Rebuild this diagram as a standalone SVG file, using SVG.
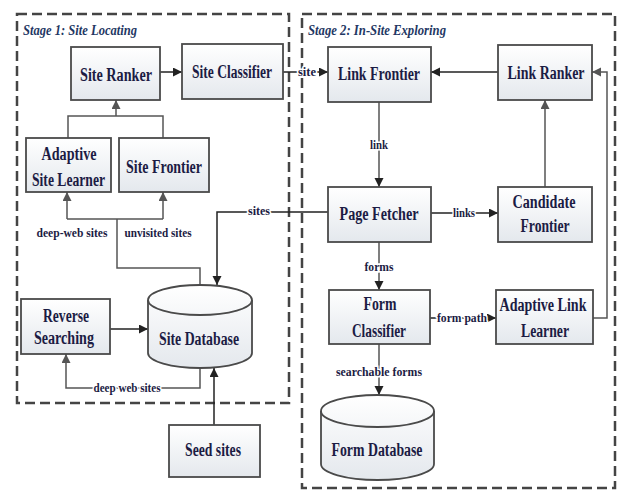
<svg xmlns="http://www.w3.org/2000/svg" width="619" height="490" viewBox="0 0 619 490">
<style>
.stage{fill:none;stroke:#444;stroke-width:2.5;stroke-dasharray:10 5}
.title{font-family:"Liberation Serif",serif;font-style:italic;font-weight:bold;font-size:14px;fill:#1f3864}
.box{fill:url(#g);stroke:#4a4a4a;stroke-width:1.8}
.t{font-family:"Liberation Serif",serif;font-weight:bold;font-size:18px;fill:#1c1c44;text-anchor:middle}
.lbl{font-family:"Liberation Serif",serif;font-weight:bold;font-size:12px;fill:#1c1c44;text-anchor:middle;stroke:#fff;stroke-width:3;paint-order:stroke}
.c{fill:none;stroke:#222;stroke-width:1.5}
.cg{fill:none;stroke:#555;stroke-width:1.5}
</style>
<defs>
<linearGradient id="g" x1="0" y1="0" x2="0" y2="1">
<stop offset="0" stop-color="#ffffff"/>
<stop offset="1" stop-color="#e4e8ed"/>
</linearGradient>
<marker id="a" markerUnits="userSpaceOnUse" markerWidth="10" markerHeight="10" refX="9" refY="4.5" orient="auto">
<path d="M0,0 L9,4.5 L0,9 z" fill="#222"/>
</marker>
<marker id="ag" markerUnits="userSpaceOnUse" markerWidth="10" markerHeight="10" refX="9" refY="4.5" orient="auto">
<path d="M0,0 L9,4.5 L0,9 z" fill="#555"/>
</marker>
</defs>
<rect width="619" height="490" fill="#fff"/>

<g id="stage1">
<rect class="stage" x="17" y="14" width="272" height="389"/>
<text class="title" x="23" y="35" textLength="114" lengthAdjust="spacingAndGlyphs">Stage 1: Site Locating</text>
</g>
<g id="stage2">
<rect class="stage" x="302" y="14" width="313" height="474"/>
<text class="title" x="308" y="35" textLength="138" lengthAdjust="spacingAndGlyphs">Stage 2: In-Site Exploring</text>
</g>

<g id="connectors">
<path class="c" d="M160,72 H182" marker-end="url(#a)"/>
<path class="cg" d="M68,138 V116 H163 V138 M116,116 V100" marker-end="url(#ag)"/>
<path class="cg" d="M200,285 V268 H117 V219 M67,219 H163"/>
<path class="cg" d="M67,219 V192" marker-end="url(#ag)"/>
<path class="cg" d="M163,219 V192" marker-end="url(#ag)"/>
<path class="c" d="M328,212 H217 V285" marker-end="url(#a)"/>
<text class="lbl" x="259" y="215" textLength="22" lengthAdjust="spacingAndGlyphs">sites</text>
<path class="c" d="M110,329 H148" marker-end="url(#a)"/>
<path class="cg" d="M200,368 V388 H66 V354" marker-end="url(#ag)"/>
<text class="lbl" x="127" y="392" textLength="67" lengthAdjust="spacingAndGlyphs">deep web sites</text>
<path class="c" d="M214,425 V368" marker-end="url(#a)"/>
<path class="c" d="M283,72 H328" marker-end="url(#a)"/>
<text class="lbl" x="307" y="76" textLength="18" lengthAdjust="spacingAndGlyphs">site</text>
<path class="c" d="M498,72 H431" marker-end="url(#a)"/>
<path class="cg" d="M379,102 V187" marker-end="url(#a)"/>
<text class="lbl" x="379" y="149" textLength="18" lengthAdjust="spacingAndGlyphs">link</text>
<path class="c" d="M431,213 H498" marker-end="url(#a)"/>
<text class="lbl" x="464" y="217" textLength="22" lengthAdjust="spacingAndGlyphs">links</text>
<path class="cg" d="M545,187 V100" marker-end="url(#ag)"/>
<path class="cg" d="M379,242 V290" marker-end="url(#a)"/>
<text class="lbl" x="379" y="271" textLength="29" lengthAdjust="spacingAndGlyphs">forms</text>
<path class="c" d="M430,318 H496" marker-end="url(#a)"/>
<text class="lbl" x="462" y="322" textLength="50" lengthAdjust="spacingAndGlyphs">form path</text>
<path class="cg" d="M593,318 H607 V72 H592" marker-end="url(#ag)"/>
<path class="cg" d="M379,344 V395" marker-end="url(#a)"/>
<text class="lbl" x="379" y="376" textLength="86" lengthAdjust="spacingAndGlyphs">searchable forms</text>
<text class="lbl" x="72" y="237" textLength="71" lengthAdjust="spacingAndGlyphs">deep-web sites</text>
<text class="lbl" x="158" y="237" textLength="67" lengthAdjust="spacingAndGlyphs">unvisited sites</text>
</g>

<g id="site-ranker"><rect class="box" x="71" y="47" width="89" height="53"/><text class="t" x="116" y="81" textLength="72" lengthAdjust="spacingAndGlyphs">Site Ranker</text></g>
<g id="site-classifier"><rect class="box" x="182" y="44" width="101" height="55"/><text class="t" x="232" y="78" textLength="80" lengthAdjust="spacingAndGlyphs">Site Classifier</text></g>
<g id="adaptive-site-learner"><rect class="box" x="26" y="138" width="85" height="54"/><text class="t" x="69" y="160" textLength="55" lengthAdjust="spacingAndGlyphs">Adaptive</text><text class="t" x="68.5" y="186" textLength="73" lengthAdjust="spacingAndGlyphs">Site Learner</text></g>
<g id="site-frontier"><rect class="box" x="119" y="138" width="90" height="54"/><text class="t" x="164" y="173" textLength="76" lengthAdjust="spacingAndGlyphs">Site Frontier</text></g>
<g id="reverse-searching"><rect class="box" x="21" y="299" width="89" height="55"/><text class="t" x="66" y="322" textLength="46" lengthAdjust="spacingAndGlyphs">Reverse</text><text class="t" x="64" y="344" textLength="60" lengthAdjust="spacingAndGlyphs">Searching</text></g>
<g id="site-database">
<path class="box" d="M148,300 A52,15 0 0 1 252,300 V353 A52,15 0 0 1 148,353 Z"/>
<path fill="none" stroke="#4a4a4a" stroke-width="1.8" d="M148,300 A52,15 0 0 0 252,300"/>
<text class="t" x="199" y="345" textLength="80" lengthAdjust="spacingAndGlyphs">Site Database</text>
</g>
<g id="seed-sites"><rect class="box" x="169" y="425" width="91" height="52"/><text class="t" x="213" y="456" textLength="56" lengthAdjust="spacingAndGlyphs">Seed sites</text></g>
<g id="link-frontier"><rect class="box" x="328" y="47" width="103" height="55"/><text class="t" x="379" y="80" textLength="82" lengthAdjust="spacingAndGlyphs">Link Frontier</text></g>
<g id="link-ranker"><rect class="box" x="498" y="45" width="94" height="55"/><text class="t" x="546" y="79" textLength="77" lengthAdjust="spacingAndGlyphs">Link Ranker</text></g>
<g id="page-fetcher"><rect class="box" x="328" y="187" width="103" height="55"/><text class="t" x="379" y="220" textLength="79" lengthAdjust="spacingAndGlyphs">Page Fetcher</text></g>
<g id="candidate-frontier"><rect class="box" x="498" y="187" width="94" height="55"/><text class="t" x="544" y="208" textLength="63" lengthAdjust="spacingAndGlyphs">Candidate</text><text class="t" x="545" y="232" textLength="49" lengthAdjust="spacingAndGlyphs">Frontier</text></g>
<g id="form-classifier"><rect class="box" x="329" y="290" width="101" height="54"/><text class="t" x="380" y="310" textLength="33" lengthAdjust="spacingAndGlyphs">Form</text><text class="t" x="379" y="337" textLength="54" lengthAdjust="spacingAndGlyphs">Classifier</text></g>
<g id="adaptive-link-learner"><rect class="box" x="496" y="290" width="97" height="54"/><text class="t" x="543" y="311" textLength="87" lengthAdjust="spacingAndGlyphs">Adaptive Link</text><text class="t" x="545" y="337" textLength="48" lengthAdjust="spacingAndGlyphs">Learner</text></g>
<g id="form-database">
<path class="box" d="M321,411 A56.5,16 0 0 1 434,411 V464 A56.5,16 0 0 1 321,464 Z"/>
<path fill="none" stroke="#4a4a4a" stroke-width="1.8" d="M321,411 A56.5,16 0 0 0 434,411"/>
<text class="t" x="377" y="456" textLength="91" lengthAdjust="spacingAndGlyphs">Form Database</text>
</g>
</svg>
